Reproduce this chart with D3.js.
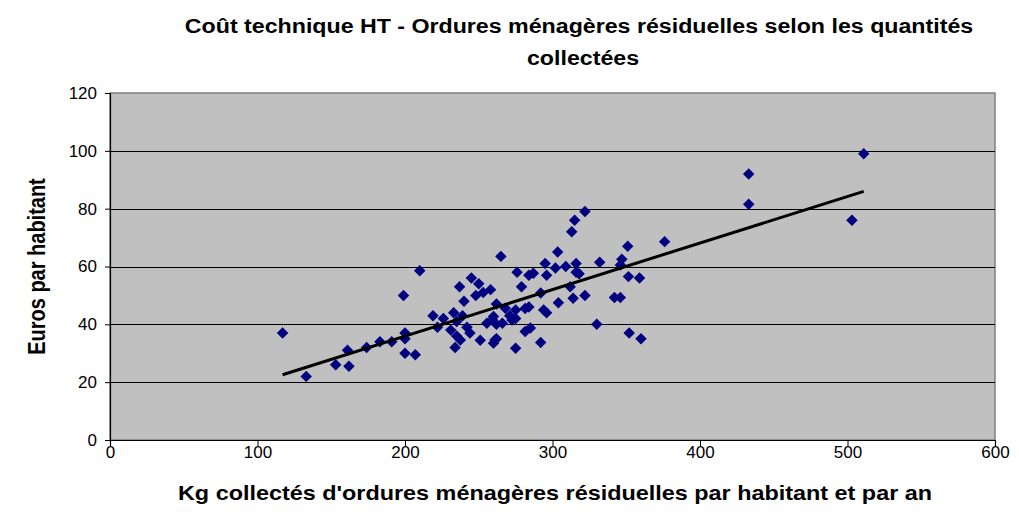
<!DOCTYPE html>
<meta charset="utf-8">
<style>
body { margin: 0; background: #fff; font-family: Arial, "Liberation Sans", sans-serif; }
text { fill: #000; }
</style>
<body>
<svg id="chart" width="1019" height="530"></svg>
<script src="https://cdnjs.cloudflare.com/ajax/libs/d3/7.8.5/d3.min.js"></script>
<script>

// kg collected per inhabitant per year
var kgHab = [117, 133, 153, 161, 162, 174, 183, 191, 199, 200,
  200, 200, 207, 210, 219, 222, 226, 231, 233, 235,
  235, 234, 237.5, 237, 239, 240, 242, 244, 245, 248,
  250, 251, 253, 258, 259, 260, 260, 261, 262, 262,
  262, 265, 266, 268, 271, 272.5, 275, 275, 275, 276,
  279, 281.5, 281.5, 284, 284, 285, 287, 292, 292, 294,
  296, 295, 296, 302, 303.5, 304, 309, 312, 313, 314,
  315, 316, 316, 318, 322, 322, 330, 332, 342, 346,
  346, 347, 351, 351.5, 352, 359, 360, 376, 433, 433,
  503, 511, 255.5];
// euros per inhabitant
var eurosHab = [37, 22, 26, 31, 25.5, 32, 34, 34, 50, 37,
  35, 30, 29.5, 58.5, 43, 39, 42, 38, 44, 41,
  36, 32, 34.6, 53, 43, 48, 39, 37, 56, 50,
  54, 34.5, 51, 52, 41.5, 42.7, 33.5, 34.6, 47, 40,
  35, 63.5, 40.4, 45.6, 43, 41.5, 45, 42, 31.7, 58,
  53, 37.5, 45.5, 57, 46, 38.7, 57.7, 50.8, 33.7, 45,
  44, 61, 57, 59.5, 65, 47.5, 60, 53, 72, 49,
  76, 61, 58, 57.5, 79, 50, 40, 61.5, 49.3, 49.3,
  60.5, 62.5, 67, 56.5, 37, 56, 35, 68.6, 92, 81.5,
  76, 99, 40.4];

var xTicks = [0, 100, 200, 300, 400, 500, 600];
var yTicks = [0, 20, 40, 60, 80, 100, 120];

var titleLines = ["Coût technique HT - Ordures ménagères résiduelles selon les quantités", "collectées"];
var xTitle = "Kg collectés d'ordures ménagères résiduelles par habitant et par an";
var yTitle = "Euros par habitant";

var svg = d3.select("#chart");
var plot = {left: 110, right: 995, top: 93, bottom: 440};

var x = d3.scaleLinear().domain([0, 600]).range([plot.left, plot.right]);
var y = d3.scaleLinear().domain([0, 120]).range([plot.bottom, plot.top]);

var points = kgHab.map(function(k, i) { return {x: k, y: eurosHab[i]}; });

// plot background
svg.append("rect")
    .attr("x", plot.left).attr("y", plot.top)
    .attr("width", plot.right - plot.left).attr("height", plot.bottom - plot.top)
    .attr("fill", "#C0C0C0")
    .attr("stroke", "#808080").attr("stroke-width", 1.5);

// gridlines
svg.append("g").selectAll("line")
    .data(yTicks.filter(function(t) { return t > 0 && t < 120; }))
    .enter().append("line")
    .attr("x1", plot.left).attr("x2", plot.right)
    .attr("y1", function(d) { return Math.round(y(d)) + 0.5; })
    .attr("y2", function(d) { return Math.round(y(d)) + 0.5; })
    .attr("stroke", "#000").attr("stroke-width", 1);

// axes
var yAxis = svg.append("g")
    .attr("transform", "translate(" + plot.left + ",0)")
    .call(d3.axisLeft(y).tickValues(yTicks).tickSize(5).tickPadding(8));
var xAxis = svg.append("g")
    .attr("transform", "translate(0," + plot.bottom + ")")
    .call(d3.axisBottom(x).tickValues(xTicks).tickSize(6).tickPadding(0));

[xAxis, yAxis].forEach(function(a) {
  a.select(".domain").attr("stroke", "#000").attr("stroke-width", 1.2);
  a.selectAll(".tick line").attr("stroke", "#000");
  a.selectAll(".tick text")
    .attr("font-family", "Arial, 'Liberation Sans', sans-serif")
    .attr("font-size", 17).attr("fill", "#000");
});

// linear trendline (least squares)
var mx = d3.mean(points, function(d) { return d.x; });
var my = d3.mean(points, function(d) { return d.y; });
var sxy = d3.sum(points, function(d) { return (d.x - mx) * (d.y - my); });
var sxx = d3.sum(points, function(d) { return (d.x - mx) * (d.x - mx); });
var slope = sxy / sxx, icpt = my - slope * mx;
var ext = d3.extent(kgHab);

// markers
var diamond = d3.symbol().type(d3.symbolDiamond2).size(84);
svg.append("g").selectAll("path")
    .data(points)
    .enter().append("path")
    .attr("d", diamond)
    .attr("transform", function(d) { return "translate(" + x(d.x) + "," + y(d.y) + ")"; })
    .attr("fill", "#000080");

svg.append("line")
    .attr("x1", x(ext[0])).attr("y1", y(slope * ext[0] + icpt))
    .attr("x2", x(ext[1])).attr("y2", y(slope * ext[1] + icpt))
    .attr("stroke", "#000").attr("stroke-width", 3);

// titles: the original export is stretched horizontally
function label(tx, ty, txt, sx, rot) {
  svg.append("text")
    .attr("transform", "translate(" + tx + "," + ty + ") scale(" + sx + ",1)" + (rot ? " rotate(-90)" : ""))
    .attr("text-anchor", "middle")
    .attr("font-weight", "bold").attr("font-size", 20)
    .text(txt);
}
label(579, 33, titleLines[0], 1.16, false);
label(583, 65, titleLines[1], 1.16, false);
label(555, 500, xTitle, 1.17, false);
label(45, (plot.top + plot.bottom) / 2, yTitle, 1.16, true);

</script>
</body>
